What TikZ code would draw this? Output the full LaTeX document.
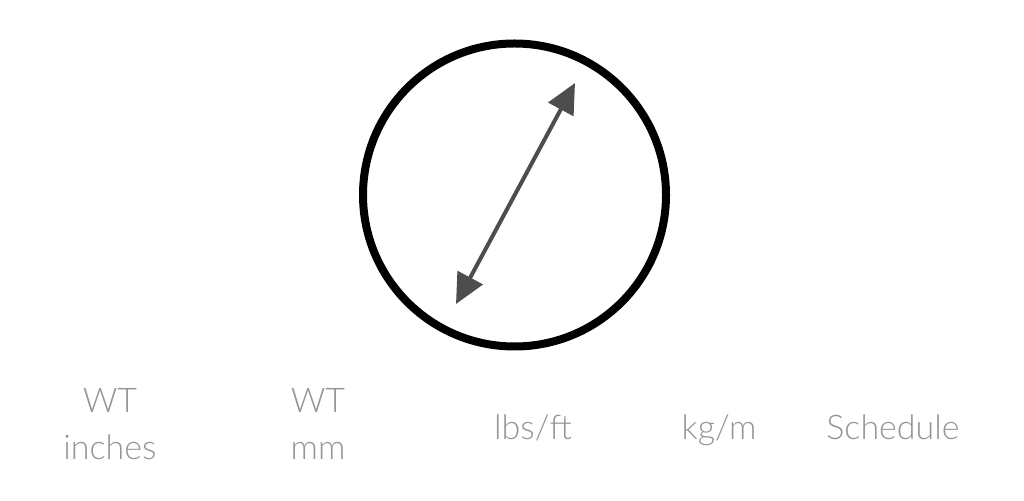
\documentclass[tikz,border=0pt]{standalone}
\usepackage{fontspec}
\setmainfont{Lato}[UprightFont={* Light}]
\usetikzlibrary{arrows.meta,positioning}
\definecolor{arrowgray}{HTML}{4D4D4D}
\definecolor{labelgray}{HTML}{959595}

\begin{document}
\begin{tikzpicture}[x=1pt,y=1pt,
  unit label/.style={font=\fontsize{34}{47}\selectfont,text=labelgray,align=center,inner sep=0pt,anchor=base},
  walltip/.tip={Triangle[length=30pt,width=28pt]}]
  \useasboundingbox (0,0) rectangle (1024,500);
  % pipe section
  \draw[line width=8pt] (514.5,305) circle (151.5);
  \coordinate (lo) at (456,196);
  \coordinate (hi) at (575,417);
  \draw[line width=4pt,arrowgray,walltip-walltip] (lo) -- (hi);
  % column labels
  \foreach \x/\y/\txt/\name in {110/40/{WT\\inches}/wtin,318/40/{WT\\mm}/wtmm,
      533/60/{lbs/ft}/lbsft,719/60/{kg/m}/kgm,893/60/{Schedule}/sched} {
    \node[unit label] (\name) at (\x,\y) {\txt};
  }
\end{tikzpicture}
\end{document}
